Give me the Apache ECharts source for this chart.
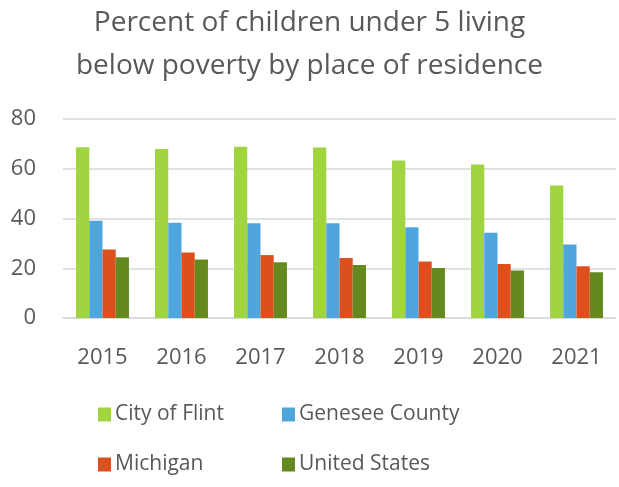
<!DOCTYPE html>
<html>
<head>
<meta charset="utf-8">
<script src="https://cdn.jsdelivr.net/npm/echarts@6/dist/echarts.min.js"></script>
<style>html,body{margin:0;padding:0;background:#fff}#c{width:619px;height:487px}</style>
</head>
<body>
<div id="c"></div>
<script>
const years = ['2015','2016','2017','2018','2019','2020','2021'];
const flint = [68.6, 67.9, 68.8, 68.5, 63.3, 61.7, 53.3];
const genesee = [39.1, 38.3, 38.1, 38.1, 36.5, 34.3, 29.5];
const michigan = [27.5, 26.3, 25.3, 24.1, 22.7, 21.7, 20.8];
const usa = [24.4, 23.5, 22.4, 21.3, 20.1, 19.1, 18.4];
const seriesNames = ['City of Flint', 'Genesee County', 'Michigan', 'United States'];
const yTicks = [0, 20, 40, 60, 80];

const colors = ['#A0D53F', '#4EA6DC', '#DD501D', '#648A1F'];
const font = 'Open Sans';
const txt = '#595959';
const chart = echarts.init(document.getElementById('c'));
const legendPos = [[93, 399], [277, 399], [93, 449], [277, 449]];
chart.setOption({
  animation: false,
  color: colors,
  title: {
    text: 'Percent of children under 5 living\nbelow poverty by place of residence',
    left: 'center', top: -3,
    textStyle: { fontFamily: font, fontSize: 28, fontWeight: 'normal', color: txt, lineHeight: 43 }
  },
  legend: seriesNames.map((n, i) => ({
    data: [n], left: legendPos[i][0], top: legendPos[i][1],
    itemWidth: 13, itemHeight: 14, itemGap: 6, icon: 'rect',
    textStyle: { fontFamily: font, fontSize: 21, color: txt, padding: [0, 0, 0, -1] }
  })),
  grid: { left: 63, right: 3, top: 119, bottom: 169, containLabel: false },
  xAxis: {
    type: 'category', data: years,
    axisLine: { lineStyle: { color: '#D9D9D9', width: 1.5 } },
    axisTick: { show: false },
    axisLabel: { fontFamily: font, fontSize: 22, color: txt, margin: 29 }
  },
  yAxis: {
    type: 'value', min: yTicks[0], max: yTicks[yTicks.length - 1], interval: 20,
    axisLine: { show: false }, axisTick: { show: false },
    splitLine: { lineStyle: { color: '#D9D9D9', width: 1.5 } },
    axisLabel: { fontFamily: font, fontSize: 22, color: txt, margin: 27 }
  },
  series: [flint, genesee, michigan, usa].map((d, i) => ({
    name: seriesNames[i], type: 'bar', data: d,
    barGap: '0%', barCategoryGap: '33%'
  }))
});
</script>
</body>
</html>
